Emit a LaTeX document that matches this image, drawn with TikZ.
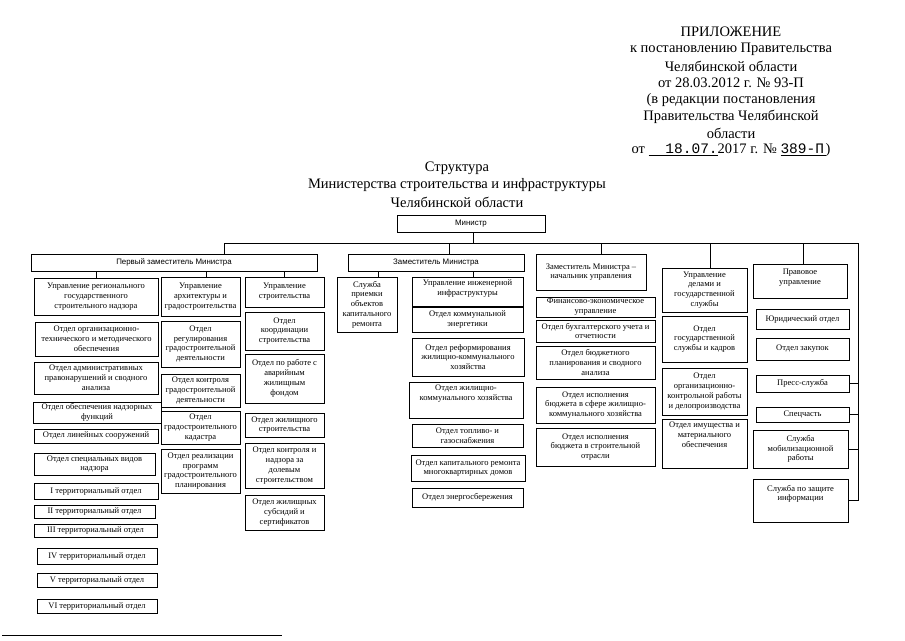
\documentclass[tikz,border=0pt]{standalone}
\usepackage{fontspec}
\setmainfont{Liberation Serif}
\newfontfamily\sansf{Liberation Sans}
\newfontfamily\monof{Liberation Mono}
\tikzset{
  box/.style={draw, line width=0.8pt, inner sep=0pt, align=center, font=\fontsize{8.5}{9.8}\selectfont},
  sbox/.style={font=\sansf\fontsize{7.9}{9.5}\selectfont},
  hdr/.style={font=\fontsize{14.5}{17}\selectfont, inner sep=0pt},
  conn/.style={line width=0.8pt},
}
% #1 extra style, #2 name, #3 x1, #4 y1, #5 x2, #6 y2, #7 text
\newcommand{\bx}[7][]{%
  \node[box,#1,minimum width={(#5-#3)*1pt},minimum height={(#6-#4)*1pt}] (#2) at ({(#3+#5)/2},{-(#4+#6)/2}) {#7};}
\newcommand{\bxt}[7][]{%
  \node[box,minimum width={(#5-#3)*1pt},minimum height={(#6-#4)*1pt}] (#2) at ({(#3+#5)/2},{-(#4+#6)/2}) {};
  \node[box,draw=none,anchor=north,#1] (#2t) at ([yshift=-3pt]#2.north) {#7};}
\begin{document}
\begin{tikzpicture}[x=1pt,y=1pt]
\useasboundingbox (0,0) rectangle (905,-640);
% header
\node[hdr] (h1) at (731,-32) {ПРИЛОЖЕНИЕ};
\node[hdr] (h2) at (731,-49) {к постановлению Правительства};
\node[hdr] (h3) at (731,-66) {Челябинской области};
\node[hdr] (h4) at (731,-83) {от 28.03.2012 г. № 93-П};
\node[hdr] (h5) at (731,-100) {(в редакции постановления};
\node[hdr] (h6) at (731,-117) {Правительства Челябинской};
\node[hdr] (h7) at (731,-133) {области};
\node[hdr] (h8) at (731,-150) {от \underline{\makebox[69pt][r]{\monof 18.07.}}2017 г. № \underline{\makebox[45pt][l]{\monof 389-П}})};
% title
\node[hdr] (t1) at (457,-168) {Структура};
\node[hdr] (t2) at (457,-185) {Министерства строительства и инфраструктуры};
\node[hdr] (t3) at (457,-202) {Челябинской области};
% top level
\bx[sbox]{minister}{397}{215}{545}{232}{Министр}
\bx[sbox]{first}{31}{254}{317}{271}{Первый заместитель Министра}
\bx[sbox]{dep}{348}{254}{524}{271}{Заместитель Министра}
\bx{depfin}{536}{254}{646}{290}{Заместитель Министра –\\начальник управления}
\bx{aff}{662}{268}{747}{312}{Управление\\делами и\\государственной\\службы}
\bxt[yshift=-2pt]{legal}{753}{264}{847}{298}{Правовое\\управление}
% column 1
\bx{c1a}{34}{278}{158}{315}{Управление регионального\\государственного\\строительного надзора}
\bx{c1b}{35}{322}{158}{356}{Отдел организационно-\\технического и методического\\обеспечения}
\bx{c1c}{34}{362}{158}{394}{Отдел административных\\правонарушений и сводного\\анализа}
\bx{c1d}{33}{402}{161}{423}{Отдел обеспечения надзорных\\функций}
\bx{c1e}{34}{429}{158}{443}{Отдел линейных сооружений}
\bx{c1f}{34}{453}{155}{475}{Отдел специальных видов\\надзора}
\bx{c1g}{34}{483}{158}{499}{I территориальный отдел}
\bx{c1h}{34}{505}{155}{518}{II территориальный отдел}
\bx{c1i}{34}{524}{157}{537}{III территориальный отдел}
\bx{c1j}{37}{548}{157}{564}{IV территориальный отдел}
\bx{c1k}{37}{573}{157}{587}{V территориальный отдел}
\bx{c1l}{37}{599}{157}{613}{VI территориальный отдел}
% column 2
\bx{c2a}{161}{277}{240}{316}{Управление\\архитектуры и\\градостроительства}
\bx{c2b}{161}{321}{240}{367}{Отдел\\регулирования\\градостроительной\\деятельности}
\bx{c2c}{161}{374}{240}{407}{Отдел контроля\\градостроительной\\деятельности}
\bx{c2d}{161}{411}{240}{444}{Отдел\\градостроительного\\кадастра}
\bx{c2e}{161}{449}{240}{493}{Отдел реализации\\программ\\градостроительного\\планирования}
% column 3
\bx{c3a}{245}{277}{324}{307}{Управление\\строительства}
\bx{c3b}{245}{312}{324}{350}{Отдел\\координации\\строительства}
\bx{c3c}{245}{354}{324}{403}{Отдел по работе с\\аварийным\\жилищным\\фондом}
\bx{c3d}{245}{413}{324}{437}{Отдел жилищного\\строительства}
\bx{c3e}{245}{443}{324}{488}{Отдел контроля и\\надзора за\\долевым\\строительством}
\bx{c3f}{245}{495}{324}{530}{Отдел жилищных\\субсидий и\\сертификатов}
% column 4
\bx{c4s}{337}{277}{397}{332}{Служба\\приемки\\объектов\\капитального\\ремонта}
\bxt{c4a}{412}{277}{523}{306}{Управление инженерной\\инфраструктуры}
\bx{c4b}{412}{307}{523}{332}{Отдел коммунальной\\энергетики}
\bx{c4c}{412}{338}{524}{376}{Отдел реформирования\\жилищно-коммунального\\хозяйства}
\bxt{c4d}{409}{382}{523}{418}{Отдел жилищно-\\коммунального хозяйства}
\bx{c4e}{412}{424}{523}{447}{Отдел топливо- и\\газоснабжения}
\bx{c4f}{411}{455}{525}{481}{Отдел капитального ремонта\\многоквартирных домов}
\bx{c4g}{412}{488}{523}{507}{Отдел энергосбережения}
% column 5
\bx{c5a}{536}{297}{655}{317}{Финансово-экономическое\\управление}
\bx{c5b}{536}{320}{655}{342}{Отдел бухгалтерского учета и\\отчетности}
\bx{c5c}{536}{346}{655}{379}{Отдел бюджетного\\планирования и сводного\\анализа}
\bx{c5d}{536}{387}{655}{423}{Отдел исполнения\\бюджета в сфере жилищно-\\коммунального хозяйства}
\bx{c5e}{536}{428}{655}{466}{Отдел исполнения\\бюджета в строительной\\отрасли}
% column 6
\bx{c6b}{662}{316}{747}{362}{Отдел\\государственной\\службы и кадров}
\bx{c6c}{662}{368}{747}{415}{Отдел\\организационно-\\контрольной работы\\и делопроизводства}
\bxt{c6d}{662}{419}{747}{468}{Отдел имущества и\\материального\\обеспечения}
% column 7
\bx{c7a}{756}{309}{849}{329}{Юридический отдел}
\bx{c7b}{756}{338}{849}{360}{Отдел закупок}
\bx{c7c}{756}{375}{849}{392}{Пресс-служба}
\bx{c7d}{756}{407}{849}{422}{Спецчасть}
\bx{c7e}{753}{430}{848}{468}{Служба\\мобилизационной\\работы}
\bxt[yshift=-3pt]{c7f}{753}{479}{848}{522}{Служба по защите\\информации}
% connectors
\coordinate (barL) at (224,-243);
\coordinate (barR) at (858,-243);
\draw[conn] (barL) -- (barR);
\draw[conn] (minister.south -| 473,0) -- (473,-243);
\draw[conn] (barL) -- (barL |- first.north);
\draw[conn] (449,-243) -- (449,0 |- dep.north);
\draw[conn] (601,-243) -- (601,0 |- depfin.north);
\draw[conn] (710,-243) -- (710,0 |- aff.north);
\draw[conn] (803,-243) -- (803,0 |- legal.north);
\draw[conn] (barR) -- (barR |- c7f.east);
\draw[conn] (c7c.east) -- (c7c.east -| barR);
\draw[conn] (c7d.east) -- (c7d.east -| barR);
\draw[conn] (c7e.east) -- (c7e.east -| barR);
\draw[conn] (c7f.east) -- (c7f.east -| barR);
\draw[conn] (first.south -| c1a.north) -- (c1a.north);
\draw[conn] (first.south -| 206,0) -- (206,0 |- c2a.north);
\draw[conn] (first.south -| c3a.north) -- (c3a.north);
\draw[conn] (dep.south -| 378,0) -- (378,0 |- c4s.north);
\draw[conn] (dep.south -| 473,0) -- (473,0 |- c4a.north);
% footnote rule
\coordinate (fnL) at (2,-635);
\coordinate (fnR) at (282,-635);
\draw[line width=0.8pt] (fnL) -- (fnR);
\end{tikzpicture}
\end{document}
